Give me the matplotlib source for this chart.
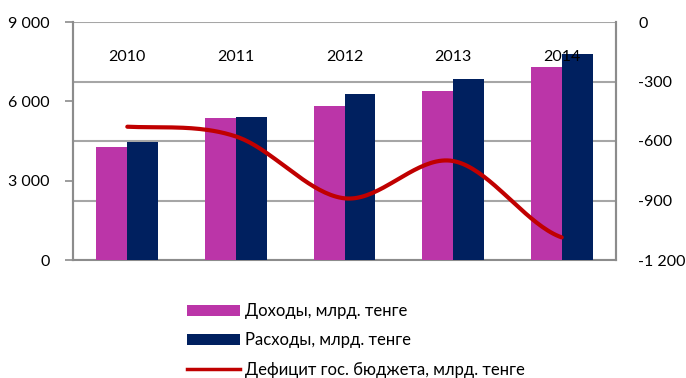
import numpy as np
import matplotlib
matplotlib.use("Agg")
import matplotlib.pyplot as plt
from matplotlib.ticker import FuncFormatter, FixedLocator
from matplotlib.patches import Patch
from matplotlib.lines import Line2D

years = ["2010", "2011", "2012", "2013", "2014"]
revenues = [4285, 5360, 5820, 6390, 7310]
expenses = [4450, 5420, 6265, 6845, 7790]
deficit = [-528, -577, -889, -701, -1086]

label_rev = "Доходы, млрд. тенге"
label_exp = "Расходы, млрд. тенге"
label_def = "Дефицит гос. бюджета, млрд. тенге"

c_rev = "#BB35A8"
c_exp = "#00205F"
c_def = "#C00000"
c_grid = "#A6A6A6"
c_spine = "#8C8C8C"

plt.rcParams["font.family"] = ["Lato", "Open Sans", "DejaVu Sans"]
plt.rcParams["font.size"] = 11.5


def smooth_curve(x, y, n=40):
    """Catmull-Rom style smoothing, similar to office-suite smoothed lines."""
    x = np.asarray(x, float)
    y = np.asarray(y, float)
    px = np.concatenate([[2 * x[0] - x[1]], x, [2 * x[-1] - x[-2]]])
    py = np.concatenate([[y[0]], y, [y[-1]]])
    xs, ys = [], []
    for i in range(1, len(px) - 2):
        p0, p1, p2, p3 = (np.array([px[j], py[j]]) for j in (i - 1, i, i + 1, i + 2))
        c1 = p1 + (p2 - p0) / 6.0
        c2 = p2 - (p3 - p1) / 6.0
        t = np.linspace(0, 1, n)[:, None]
        pts = ((1 - t) ** 3) * p1 + 3 * ((1 - t) ** 2) * t * c1 + 3 * (1 - t) * t ** 2 * c2 + t ** 3 * p2
        xs.append(pts[:, 0])
        ys.append(pts[:, 1])
    return np.concatenate(xs), np.concatenate(ys)


fig = plt.figure(figsize=(6.86, 3.78), dpi=100)
ax = fig.add_axes([73 / 686, 1 - 260 / 378, (616 - 73) / 686, (260 - 22) / 378])
ax2 = ax.twinx()

x = np.arange(len(years))
w = 0.285
ax.bar(x - w / 2, revenues, width=w, color=c_rev, zorder=3)
ax.bar(x + w / 2, expenses, width=w, color=c_exp, zorder=3)

ax.set_xlim(-0.5, len(years) - 0.5)
ax.set_ylim(0, 9000)
ax.yaxis.set_major_locator(FixedLocator([0, 3000, 6000, 9000]))
fmt = FuncFormatter(lambda v, p: f"{int(round(v)):,}".replace(",", " "))
ax.yaxis.set_major_formatter(fmt)
ax.set_xticks([])
ax.tick_params(axis="y", length=6, width=1.2, color=c_spine, pad=11, labelsize=11.5)

ax2.set_ylim(-1200, 0)
ax2.yaxis.set_major_locator(FixedLocator([-1200, -900, -600, -300, 0]))
ax2.yaxis.set_major_formatter(fmt)
ax2.tick_params(axis="y", length=0, pad=16, labelsize=11.5)
ax2.grid(axis="y", color=c_grid, linewidth=1.5, zorder=0)
ax2.set_zorder(ax.get_zorder() - 1)
ax.patch.set_visible(False)

for a in (ax, ax2):
    for side in ("left", "right", "top", "bottom"):
        a.spines[side].set_color(c_spine)
        a.spines[side].set_linewidth(1.5)
    a.spines["top"].set_visible(False)
ax2.spines["bottom"].set_visible(False)

sx, sy = smooth_curve(x, deficit)
# draw the deficit curve on the bar axes, converting to left-axis units
sy_left = (sy + 1200) / 1200 * 9000
ax.plot(sx, sy_left, color=c_def, linewidth=3, solid_capstyle="round", zorder=5)

for xi, yr in zip(x, years):
    ax.text(xi, 0.855, yr, transform=ax.get_xaxis_transform(), ha="center", va="center",
            fontsize=11.5, zorder=6)

handles = [Patch(facecolor=c_rev), Patch(facecolor=c_exp), Line2D([], [], color=c_def, linewidth=2.5)]
fig.legend(handles, [label_rev, label_exp, label_def], loc="upper left",
           bbox_to_anchor=(187 / 686, 1 - 303 / 378), frameon=False, fontsize=12,
           handlelength=3.2, handleheight=0.62, labelspacing=0.8, handletextpad=0.3,
           borderaxespad=0, borderpad=0)

fig.savefig("out.png", dpi=100)
